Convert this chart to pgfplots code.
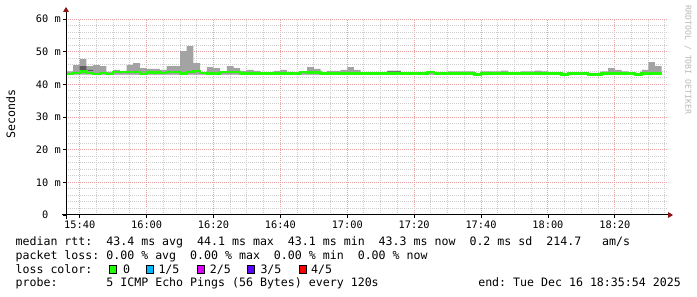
\documentclass[border=0pt]{standalone}
\usepackage{fontspec}
\setmainfont{DejaVu Sans Mono}
\usepackage{pgfplots}
\pgfplotsset{compat=1.18}
\usepackage{pgfplotstable}
\usepgfplotslibrary{fillbetween}
\definecolor{smoke}{gray}{0.64}
\definecolor{darksmoke}{gray}{0.36}
\definecolor{med}{RGB}{32,255,0}
\definecolor{mgrid}{RGB}{232,160,160}
\definecolor{ngrid}{RGB}{205,205,205}
\definecolor{arrowred}{RGB}{140,20,20}
\definecolor{lossA}{RGB}{0,184,255}
\definecolor{lossB}{RGB}{221,0,255}
\definecolor{lossC}{RGB}{94,0,255}
\definecolor{lossD}{RGB}{255,0,0}
\newcommand{\fsA}{\fontsize{10.3bp}{12bp}\selectfont}
\newcommand{\fsL}{\fontsize{11.6bp}{14bp}\selectfont}

% t = minutes after 15:00 (start of each 2-minute step)
\pgfplotstableread{
t   lo   hi   med  dlo  dhi
36  43.0 44.0 43.1 43.0 43.0
38  43.0 45.9 43.4 43.0 43.0
40  43.0 47.7 43.9 44.3 45.6
42  43.0 45.6 43.5 44.1 44.4
44  43.0 45.9 43.2 43.0 43.0
46  43.0 45.6 43.5 43.0 43.0
48  43.0 43.8 43.1 43.0 43.0
50  43.0 44.4 43.7 43.0 43.0
52  43.0 44.1 43.7 43.0 43.0
54  43.0 45.9 43.7 43.0 43.0
56  43.0 46.5 43.7 43.0 43.0
58  43.0 45.0 43.2 43.0 43.0
60  43.0 44.7 43.6 43.0 43.0
62  43.0 44.7 43.6 43.0 43.0
64  43.0 44.4 43.4 43.0 43.0
66  43.0 45.6 43.7 43.0 43.0
68  43.0 45.6 43.7 43.0 43.0
70  43.0 50.2 43.3 43.0 43.0
72  43.0 51.7 43.7 43.0 43.0
74  43.0 46.5 44.0 43.0 43.0
76  43.0 43.8 43.5 43.0 43.0
78  43.0 45.3 43.3 43.0 43.0
80  43.0 45.0 43.3 43.0 43.0
82  43.0 43.8 43.7 43.0 43.0
84  43.0 45.6 43.7 43.0 43.0
86  43.0 45.0 43.7 43.0 43.0
88  43.0 44.1 43.3 43.0 43.0
90  43.0 44.4 43.3 43.0 43.0
92  43.0 44.1 43.3 43.0 43.0
94  43.0 43.5 43.3 43.0 43.0
96  43.0 43.5 43.3 43.0 43.0
98  43.0 44.1 43.3 43.0 43.0
100 43.0 44.4 43.3 43.0 43.0
102 43.0 43.8 43.3 43.0 43.0
104 43.0 43.5 43.3 43.0 43.0
106 43.0 43.7 43.7 43.0 43.0
108 43.0 45.3 43.6 43.0 43.0
110 43.0 44.7 43.6 43.0 43.0
112 43.0 43.5 43.3 43.0 43.0
114 43.0 44.1 43.3 43.0 43.0
116 43.0 44.1 43.3 43.0 43.0
118 43.0 44.4 43.3 43.0 43.0
120 43.0 45.3 43.3 43.0 43.0
122 43.0 44.4 43.3 43.0 43.0
124 43.0 43.5 43.3 43.0 43.0
126 43.0 43.5 43.3 43.0 43.0
128 43.0 43.5 43.3 43.0 43.0
130 43.0 43.5 43.3 43.0 43.0
132 43.0 44.1 43.3 43.9 44.1
134 43.0 44.1 43.3 43.9 44.1
136 43.0 43.5 43.3 43.0 43.0
138 43.0 43.5 43.3 43.0 43.0
140 43.0 43.5 43.3 43.0 43.0
142 43.0 43.5 43.3 43.0 43.0
144 43.0 43.7 43.7 43.0 43.0
146 43.0 43.5 43.3 43.0 43.0
148 43.0 43.5 43.3 43.0 43.0
150 43.0 44.0 43.3 43.0 43.0
152 43.0 44.0 43.3 43.0 43.0
154 43.0 44.0 43.3 43.0 43.0
156 43.0 44.0 43.3 43.0 43.0
158 43.0 43.5 43.0 43.0 43.0
160 43.0 44.0 43.3 43.0 43.0
162 43.0 44.0 43.3 43.0 43.0
164 43.0 44.0 43.3 43.0 43.0
166 43.0 44.2 43.3 43.0 43.0
168 43.0 43.5 43.3 43.0 43.0
170 43.0 43.5 43.3 43.0 43.0
172 43.0 44.0 43.3 43.0 43.0
174 43.0 44.0 43.3 43.0 43.0
176 43.0 44.2 43.3 43.0 43.0
178 43.0 44.0 43.3 43.0 43.0
180 43.0 43.5 43.3 43.0 43.0
182 43.0 43.5 43.3 43.0 43.0
184 43.0 43.5 43.0 43.0 43.0
186 43.0 43.5 43.3 43.0 43.0
188 43.0 43.5 43.3 43.0 43.0
190 43.0 43.5 43.3 43.0 43.0
192 43.0 43.5 43.0 43.0 43.0
194 43.0 43.5 43.0 43.0 43.0
196 43.0 44.0 43.3 43.0 43.0
198 43.0 45.0 43.3 43.0 43.0
200 43.0 44.4 43.3 43.0 43.0
202 43.0 44.0 43.3 43.0 43.0
204 43.0 43.5 43.3 43.0 43.0
206 43.0 43.5 43.0 43.0 43.0
208 43.0 44.4 43.3 43.0 43.0
210 43.0 46.8 43.3 43.0 43.0
212 43.0 45.6 43.3 43.0 43.0
214 43.0 45.6 43.3 43.0 43.0
}\datatab

\begin{document}
\begin{tikzpicture}
\begin{axis}[
  at={(66bp,82bp)}, anchor=south west, scale only axis,
  width=602bp, height=196bp,
  xmin=35.9, xmax=215.9, ymin=0, ymax=60,
  axis line style={draw=none},
  xtick={40,60,...,200},
  xticklabels={15:40,16:00,16:20,16:40,17:00,17:20,17:40,18:00,18:20},
  minor xtick={40,45,...,215},
  ytick={0,10,...,60},
  yticklabels={0\phantom{~m},10~m,20~m,30~m,40~m,50~m,60~m},
  minor ytick={2,4,...,58},
  grid=both,
  major grid style={mgrid, line width=1bp, dash pattern=on 1bp off 1bp},
  minor grid style={ngrid, line width=1bp, dash pattern=on 1bp off 1bp},
  tick pos=left, tick align=outside,
  major tick length=3bp, minor tick length=0bp,
  tick style={black, line width=0.8bp},
  tick label style={font=\fsA, inner sep=0pt},
  xticklabel style={yshift=-3bp},
  yticklabel style={xshift=-2bp},
]
\addplot[draw=none, name path=hi, const plot, forget plot] table[x=t,y=hi]{\datatab};
\addplot[draw=none, name path=lo, const plot, forget plot] table[x=t,y=lo]{\datatab};
\addplot[smoke, draw=none] fill between[of=hi and lo];
\addplot[draw=none, name path=dhi, const plot, forget plot] table[x=t,y=dhi]{\datatab};
\addplot[draw=none, name path=dlo, const plot, forget plot] table[x=t,y=dlo]{\datatab};
\addplot[darksmoke, draw=none] fill between[of=dhi and dlo];
\addplot[med, line width=2.4bp, const plot] table[x=t,y=med]{\datatab};
\end{axis}
% axis lines with arrows
\draw[black, line width=1bp] (62bp,82bp) -- (669bp,82bp);
\draw[black, line width=1bp] (66bp,78bp) -- (66bp,286bp);
\fill[arrowred] (668bp,79bp) -- (673bp,82bp) -- (668bp,85bp) -- cycle;
\fill[arrowred] (63bp,285bp) -- (66bp,290bp) -- (69bp,285bp) -- cycle;
% labels
\node[anchor=center, rotate=90, font=\fsL, inner sep=0pt] at (10.7bp,182.7bp) {Seconds};
\node[anchor=center, rotate=-90, font=\fontsize{8.2bp}{9bp}\selectfont, text=black!28, inner sep=0pt] at (688bp,237bp) {RRDTOOL / TOBI OETIKER};
% legend
\node[anchor=base west, inner sep=0pt, font=\fsL] at (15.4bp,51.3bp) {median~rtt:~~43.4~ms~avg~~44.1~ms~max~~43.1~ms~min~~43.3~ms~now~~0.2~ms~sd~~214.7~~~am/s};
\node[anchor=base west, inner sep=0pt, font=\fsL] at (15.4bp,37.5bp) {packet~loss:~0.00~\%~avg~~0.00~\%~max~~0.00~\%~min~~0.00~\%~now};
\node[anchor=base west, inner sep=0pt, font=\fsL] at (15.4bp,23.8bp) {loss~color:};
\filldraw[fill=med, draw=black, line width=0.8bp] (109.4bp,23.4bp) rectangle (116.6bp,31.6bp);
\filldraw[fill=lossA, draw=black, line width=0.8bp] (146.4bp,23.4bp) rectangle (153.6bp,31.6bp);
\filldraw[fill=lossB, draw=black, line width=0.8bp] (197.4bp,23.4bp) rectangle (204.6bp,31.6bp);
\filldraw[fill=lossC, draw=black, line width=0.8bp] (247.4bp,23.4bp) rectangle (254.6bp,31.6bp);
\filldraw[fill=lossD, draw=black, line width=0.8bp] (298.9bp,23.4bp) rectangle (306.1bp,31.6bp);
\node[anchor=base west, inner sep=0pt, font=\fsL] at (122.9bp,23.8bp) {0};
\node[anchor=base west, inner sep=0pt, font=\fsL] at (158.3bp,23.8bp) {1/5};
\node[anchor=base west, inner sep=0pt, font=\fsL] at (209.6bp,23.8bp) {2/5};
\node[anchor=base west, inner sep=0pt, font=\fsL] at (260.3bp,23.8bp) {3/5};
\node[anchor=base west, inner sep=0pt, font=\fsL] at (311bp,23.8bp) {4/5};
\node[anchor=base west, inner sep=0pt, font=\fsL] at (15.4bp,10.3bp) {probe:~~~~~~~5~ICMP~Echo~Pings~(56~Bytes)~every~120s};
\node[anchor=base east, inner sep=0pt, font=\fsL] at (681bp,10.3bp) {end:~Tue~Dec~16~18:35:54~2025};
\pgfresetboundingbox
\path[use as bounding box] (0,0) rectangle (697bp,297bp);
\end{tikzpicture}
\end{document}
